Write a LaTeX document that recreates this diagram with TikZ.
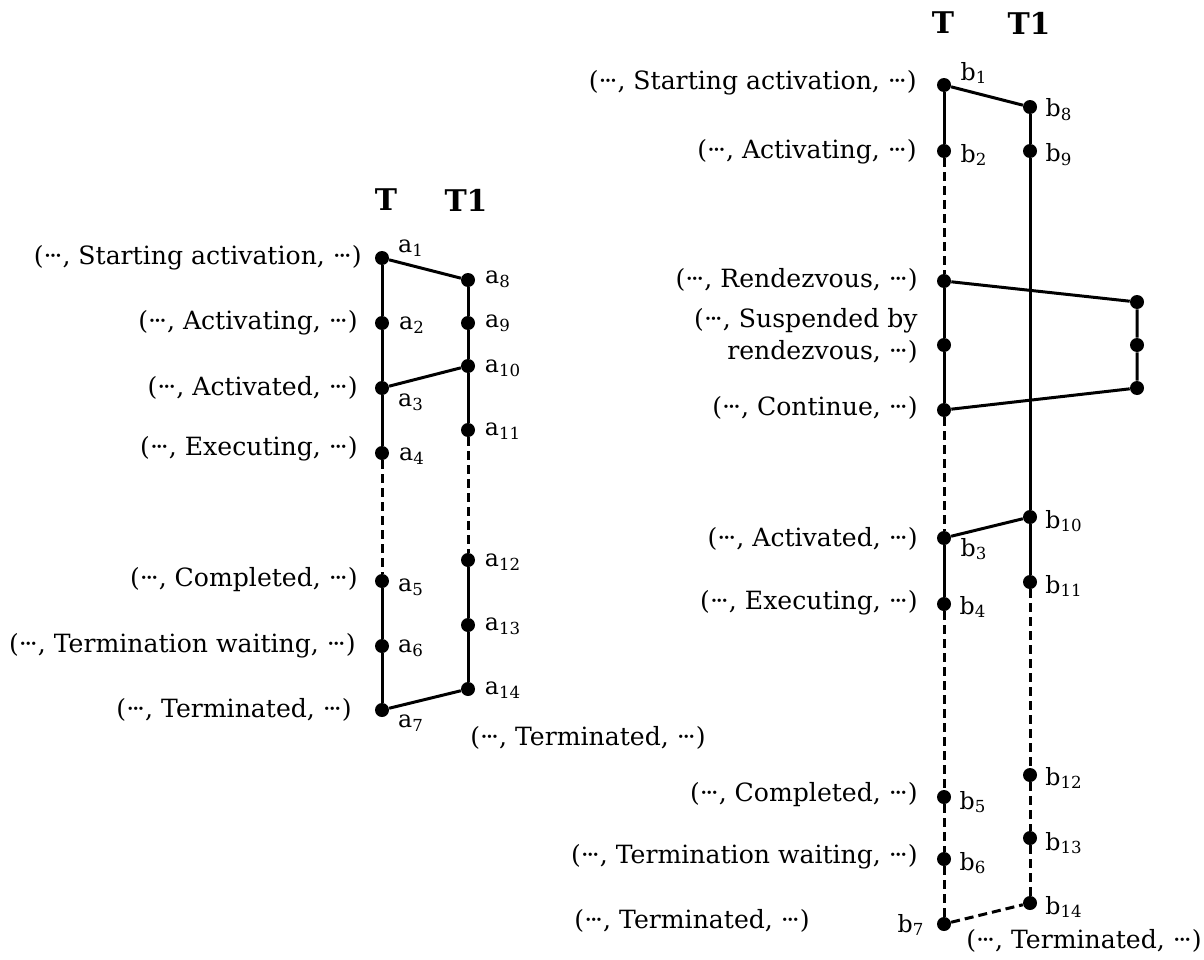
\documentclass[tikz,border=0pt]{standalone}
\usepackage{fontspec}
\setmainfont{DejaVu Serif}
\newcommand{\cdd}{·\kern-.1em·\kern-.1em·}
\tikzset{
  pt/.style={circle, fill=black, inner sep=0pt, minimum size=0.28cm},
  seg/.style={line width=0.06cm},
  dseg/.style={line width=0.06cm, dash pattern=on 0.18cm off 0.1cm},
  state/.style={inner sep=0pt, font=\fontsize{14.3}{18}\selectfont},
  ptname/.style={inner sep=0pt, font=\fontsize{13.5}{16}\selectfont},
  task/.style={inner sep=0pt, font=\bfseries\fontsize{17}{20}\selectfont}
}
\begin{document}
\begin{tikzpicture}[x=0.02cm, y=-0.02cm]
  \useasboundingbox (0,0) rectangle (1204,960);

  % Task names
  \node[task] (tl) at (386,200) {T};
  \node[task] (tl1) at (466,200) {T1};
  \node[task] (tr) at (943,23) {T};
  \node[task] (tr1) at (1029,23) {T1};

  % Marking points a1 ... a7 of T
  \node[pt] (a1) at (382,258) {};
  \node[pt] (a2) at (382,323) {};
  \node[pt] (a3) at (382,388) {};
  \node[pt] (a4) at (382,453) {};
  \node[pt] (a5) at (382,581) {};
  \node[pt] (a6) at (382,646) {};
  \node[pt] (a7) at (382,710) {};

  % Marking points a8 ... a14 of T1
  \node[pt] (a8) at (468,280) {};
  \node[pt] (a9) at (468,323) {};
  \node[pt] (a10) at (468,366) {};
  \node[pt] (a11) at (468,430) {};
  \node[pt] (a12) at (468,560) {};
  \node[pt] (a13) at (468,625) {};
  \node[pt] (a14) at (468,689) {};

  % Names of the points a
  \node[ptname] (la1) at (411,248) {a\textsubscript{1}};
  \node[ptname] (la2) at (412,325) {a\textsubscript{2}};
  \node[ptname] (la3) at (411,402) {a\textsubscript{3}};
  \node[ptname] (la4) at (412,456) {a\textsubscript{4}};
  \node[ptname] (la5) at (411,587) {a\textsubscript{5}};
  \node[ptname] (la6) at (411,648) {a\textsubscript{6}};
  \node[ptname] (la7) at (411,723) {a\textsubscript{7}};
  \node[ptname] (la8) at (498,279) {a\textsubscript{8}};
  \node[ptname] (la9) at (498,323) {a\textsubscript{9}};
  \node[ptname] (la10) at (503,368) {a\textsubscript{10}};
  \node[ptname] (la11) at (503,431) {a\textsubscript{11}};
  \node[ptname] (la12) at (503,562) {a\textsubscript{12}};
  \node[ptname] (la13) at (503,626) {a\textsubscript{13}};
  \node[ptname] (la14) at (503,690) {a\textsubscript{14}};

  % States of the left picture
  \node[state, anchor=east] (sa1) at (362,258) {(\cdd, Starting activation, \cdd)};
  \node[state, anchor=east] (sa2) at (358,323) {(\cdd, Activating, \cdd)};
  \node[state, anchor=east] (sa3) at (358,388) {(\cdd, Activated, \cdd)};
  \node[state, anchor=east] (sa4) at (358,449) {(\cdd, Executing, \cdd)};
  \node[state, anchor=east] (sa5) at (358,580) {(\cdd, Completed, \cdd)};
  \node[state, anchor=east] (sa6) at (356,646) {(\cdd, Termination waiting, \cdd)};
  \node[state, anchor=east] (sa7) at (352,710) {(\cdd, Terminated, \cdd)};
  \node[state, anchor=west] (sa14) at (470,738) {(\cdd, Terminated, \cdd)};

  % Drawing segments of T
  \draw[seg] (a1) -- (a2) -- (a3) -- (a4);
  \draw[dseg] (a4) -- (a5);
  \draw[seg] (a5) -- (a6) -- (a7);

  % Drawing segments of T1
  \draw[seg] (a8) -- (a9) -- (a10) -- (a11);
  \draw[dseg] (a11) -- (a12);
  \draw[seg] (a12) -- (a13) -- (a14);

  % Drawing segments between T and T1
  \draw[seg] (a1) -- (a8);
  \draw[seg] (a3) -- (a10);
  \draw[seg] (a7) -- (a14);

  % Marking points b1 ... b7 of T
  \node[pt] (b1) at (944,85) {};
  \node[pt] (b2) at (944,151) {};
  \node[pt] (r1) at (944,281) {};
  \node[pt] (r2) at (944,345) {};
  \node[pt] (r3) at (944,410) {};
  \node[pt] (b3) at (944,538) {};
  \node[pt] (b4) at (944,604) {};
  \node[pt] (b5) at (944,797) {};
  \node[pt] (b6) at (944,859) {};
  \node[pt] (b7) at (944,924) {};

  % Marking points b8 ... b14 of T1
  \node[pt] (b8) at (1030,107) {};
  \node[pt] (b9) at (1030,151) {};
  \node[pt] (b10) at (1030,517) {};
  \node[pt] (b11) at (1030,582) {};
  \node[pt] (b12) at (1030,775) {};
  \node[pt] (b13) at (1030,838) {};
  \node[pt] (b14) at (1030,903) {};

  % Marking points of the rendezvous partner
  \node[pt] (q1) at (1137,302) {};
  \node[pt] (q2) at (1137,345) {};
  \node[pt] (q3) at (1137,388) {};

  % Names of the points b
  \node[ptname] (lb1) at (974,73) {b\textsubscript{1}};
  \node[ptname] (lb2) at (974,155) {b\textsubscript{2}};
  \node[ptname] (lb3) at (974,549) {b\textsubscript{3}};
  \node[ptname] (lb4) at (973,607) {b\textsubscript{4}};
  \node[ptname] (lb5) at (973,802) {b\textsubscript{5}};
  \node[ptname] (lb6) at (973,863) {b\textsubscript{6}};
  \node[ptname] (lb7) at (911,925) {b\textsubscript{7}};
  \node[ptname] (lb8) at (1059,110) {b\textsubscript{8}};
  \node[ptname] (lb9) at (1059,155) {b\textsubscript{9}};
  \node[ptname] (lb10) at (1064,521) {b\textsubscript{10}};
  \node[ptname] (lb11) at (1064,586) {b\textsubscript{11}};
  \node[ptname] (lb12) at (1064,778) {b\textsubscript{12}};
  \node[ptname] (lb13) at (1064,843) {b\textsubscript{13}};
  \node[ptname] (lb14) at (1064,907) {b\textsubscript{14}};

  % States of the right picture
  \node[state, anchor=east] (sb1) at (917,83) {(\cdd, Starting activation, \cdd)};
  \node[state, anchor=east] (sb2) at (917,152) {(\cdd, Activating, \cdd)};
  \node[state, anchor=east] (sr1) at (918,280) {(\cdd, Rendezvous, \cdd)};
  \node[state, anchor=east, align=right] (sr2) at (918,336) {(\cdd, Suspended by\\rendezvous, \cdd)};
  \node[state, anchor=east] (sr3) at (918,408) {(\cdd, Continue, \cdd)};
  \node[state, anchor=east] (sb3) at (918,539) {(\cdd, Activated, \cdd)};
  \node[state, anchor=east] (sb4) at (918,603) {(\cdd, Executing, \cdd)};
  \node[state, anchor=east] (sb5) at (918,795) {(\cdd, Completed, \cdd)};
  \node[state, anchor=east] (sb6) at (918,857) {(\cdd, Termination waiting, \cdd)};
  \node[state, anchor=east] (sb7) at (810,921) {(\cdd, Terminated, \cdd)};
  \node[state, anchor=west] (sb14) at (966,941) {(\cdd, Terminated, \cdd)};

  % Drawing segments of T
  \draw[seg] (b1) -- (b2);
  \draw[dseg] (b2) -- (r1);
  \draw[seg] (r1) -- (r2) -- (r3);
  \draw[dseg] (r3) -- (b3);
  \draw[seg] (b3) -- (b4);
  \draw[dseg] (b4) -- (b5) -- (b6) -- (b7);

  % Drawing segments of T1
  \draw[seg] (b8) -- (b9) -- (b10) -- (b11);
  \draw[dseg] (b11) -- (b12) -- (b13) -- (b14);

  % Drawing segments of the rendezvous
  \draw[seg] (r1) -- (q1) -- (q2) -- (q3) -- (r3);

  % Drawing segments between T and T1
  \draw[seg] (b1) -- (b8);
  \draw[seg] (b3) -- (b10);
  \draw[dseg] (b7) -- (b14);
\end{tikzpicture}
\end{document}
